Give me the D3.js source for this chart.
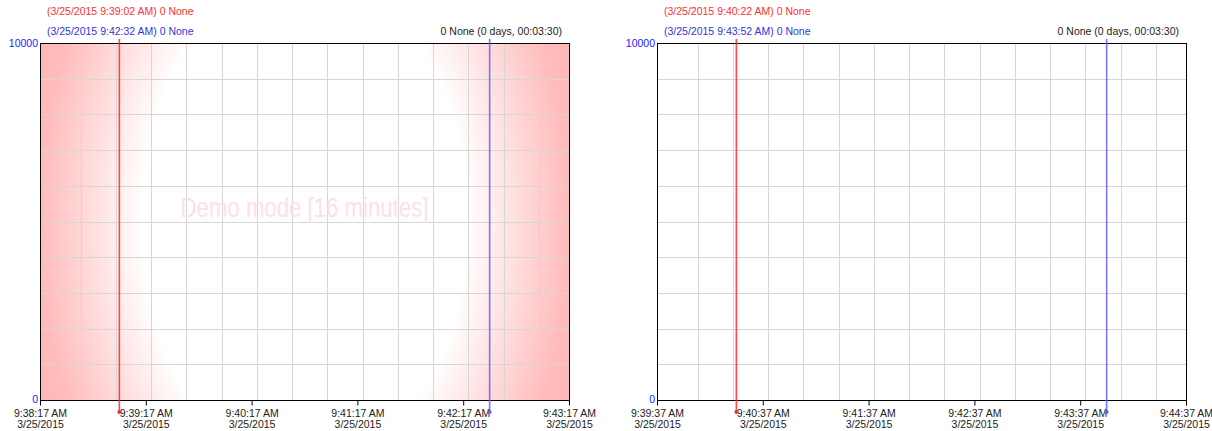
<!DOCTYPE html>
<html>
<head>
<meta charset="utf-8">
<script src="https://cdn.jsdelivr.net/npm/d3@7"></script>
<style>
  body { margin: 0; background: #fff; }
  svg { display: block; font-family: "Liberation Sans", Arial, sans-serif; }
</style>
</head>
<body>
<svg id="chart" width="1212" height="431"></svg>
<script>
// data for the two trend panels
var panelStart  = ["2015-03-25T09:38:17", "2015-03-25T09:39:37"];
var panelEnd    = ["2015-03-25T09:43:17", "2015-03-25T09:44:37"];
var redCursor   = ["2015-03-25T09:39:02", "2015-03-25T09:40:22"];
var blueCursor  = ["2015-03-25T09:42:32", "2015-03-25T09:43:52"];
var cursorValue = ["0 None", "0 None"];
var deltaText   = ["0 None (0 days, 00:03:30)", "0 None (0 days, 00:03:30)"];
var yDomain     = [0, 10000];
var yLabels     = [0, 10000];
var demoText    = "Demo mode [16 minutes]";

var parse = d3.timeParse("%Y-%m-%dT%H:%M:%S");
var fmtTime = d3.timeFormat("%-I:%M:%S %p");
var fmtDate = d3.timeFormat("%-m/%-d/%Y");

var svg = d3.select("#chart");

// left edge of each plot, plot box size
var plotLeft = [40, 657];
var plotTop = 43, plotW = 529, plotH = 357;

// pink "demo" background for the first panel
var defs = svg.append("defs");
var cx = plotLeft[0] + plotW / 2, cy = plotTop + plotH / 2;
var grad = defs.append("radialGradient")
    .attr("id", "demoBg")
    .attr("gradientUnits", "userSpaceOnUse")
    .attr("cx", cx).attr("cy", cy).attr("r", 293)
    .attr("gradientTransform", "translate(" + cx + "," + cy + ") scale(1,1.54) translate(" + (-cx) + "," + (-cy) + ")");
grad.append("stop").attr("offset", 0).attr("stop-color", "#ffffff");
grad.append("stop").attr("offset", 0.55).attr("stop-color", "#ffffff");
grad.append("stop").attr("offset", 0.9).attr("stop-color", "#ffbcbc");
grad.append("stop").attr("offset", 1).attr("stop-color", "#ffb4b4");

function drawPanel(i) {
  var x0 = plotLeft[i];
  var t0 = parse(panelStart[i]), t1 = parse(panelEnd[i]);

  var x = d3.scaleTime().domain([t0, t1]).range([x0, x0 + plotW]);
  var y = d3.scaleLinear().domain(yDomain).range([plotTop + plotH, plotTop]);

  var g = svg.append("g");

  if (i === 0) {
    g.append("rect")
        .attr("x", x0).attr("y", plotTop)
        .attr("width", plotW).attr("height", plotH)
        .attr("fill", "url(#demoBg)");
  }

  // grid: every 20 seconds and every 1000
  var vgrid = d3.timeSecond.every(20).range(t0, t1).slice(1);
  g.selectAll(".vg").data(vgrid).enter().append("line")
      .attr("x1", function(d){ return Math.round(x(d)) + 0.5; })
      .attr("x2", function(d){ return Math.round(x(d)) + 0.5; })
      .attr("y1", plotTop).attr("y2", plotTop + plotH)
      .attr("stroke", "#d6d6d6");
  g.selectAll(".hg").data(d3.range(1000, 10000, 1000)).enter().append("line")
      .attr("x1", x0).attr("x2", x0 + plotW)
      .attr("y1", function(d){ return Math.round(y(d)) + 0.5; })
      .attr("y2", function(d){ return Math.round(y(d)) + 0.5; })
      .attr("stroke", "#d6d6d6");

  if (i === 0) {
    g.append("text")
        .attr("x", x0 + plotW / 2).attr("y", 217)
        .attr("text-anchor", "middle")
        .attr("font-size", "27px")
        .attr("textLength", 248).attr("lengthAdjust", "spacingAndGlyphs")
        .attr("fill", "#ffe0ea")
        .text(demoText);
  }

  // frame
  g.append("rect")
      .attr("x", x0 + 0.5).attr("y", plotTop + 0.5)
      .attr("width", plotW).attr("height", plotH)
      .attr("fill", "none").attr("stroke", "#000");

  // x axis, one tick per minute, two line labels
  var ticks = d3.range(0, 6).map(function(k){ return d3.timeMinute.offset(t0, k); });
  var xAxis = d3.axisBottom(x)
      .tickValues(ticks)
      .tickSize(5).tickSizeOuter(0).tickFormat("");
  var ax = g.append("g")
      .attr("transform", "translate(0," + (plotTop + plotH + 0.5) + ")")
      .call(xAxis);
  ax.select(".domain").remove();
  ax.selectAll(".tick line").attr("stroke", "#000");
  ax.selectAll(".tick").each(function(d) {
    var t = d3.select(this).select("text")
        .attr("y", 0).attr("dy", null)
        .attr("fill", "#222")
        .attr("font-size", "10.5px")
        .attr("font-family", "Liberation Sans, Arial, sans-serif");
    t.append("tspan").attr("x", 0).attr("y", 16).text(fmtTime(d));
    t.append("tspan").attr("x", 0).attr("y", 27).text(fmtDate(d));
  });

  // y labels only at min / max
  g.selectAll(".yl").data(yLabels).enter().append("text")
      .attr("x", x0 - 2)
      .attr("y", function(d){ return y(d) + (d === 0 ? -1 : 0); })
      .attr("dy", "0.35em")
      .attr("text-anchor", "end")
      .attr("font-size", "10.5px")
      .attr("fill", "#2020ff")
      .text(function(d){ return d; });

  // cursors
  var cursors = [
    {t: parse(redCursor[i]), color: "#ff2a2a"},
    {t: parse(blueCursor[i]), color: "#6060ff"}
  ];
  cursors.forEach(function(c) {
    var cxp = x(c.t);
    g.append("line")
        .attr("x1", cxp).attr("x2", cxp)
        .attr("y1", 39).attr("y2", 412)
        .attr("stroke", c.color).attr("stroke-opacity", 0.85)
        .attr("stroke-width", 1.6);
    g.append("circle")
        .attr("cx", cxp).attr("cy", 412).attr("r", 2)
        .attr("fill", c.color);
  });

  // header texts
  g.append("text")
      .attr("x", x0 + 7).attr("y", 14.5)
      .attr("font-size", "10.5px").attr("fill", "#ff3030")
      .text("(" + fmtDate(cursors[0].t) + " " + fmtTime(cursors[0].t) + ") " + cursorValue[i]);
  g.append("text")
      .attr("x", x0 + 7).attr("y", 34.5)
      .attr("font-size", "10.5px").attr("fill", "#3333dd")
      .text("(" + fmtDate(cursors[1].t) + " " + fmtTime(cursors[1].t) + ") " + cursorValue[i]);
  g.append("text")
      .attr("x", x0 + plotW - 7).attr("y", 34.5)
      .attr("text-anchor", "end")
      .attr("font-size", "10.5px").attr("fill", "#222")
      .text(deltaText[i]);
}

drawPanel(0);
drawPanel(1);
</script>
</body>
</html>
